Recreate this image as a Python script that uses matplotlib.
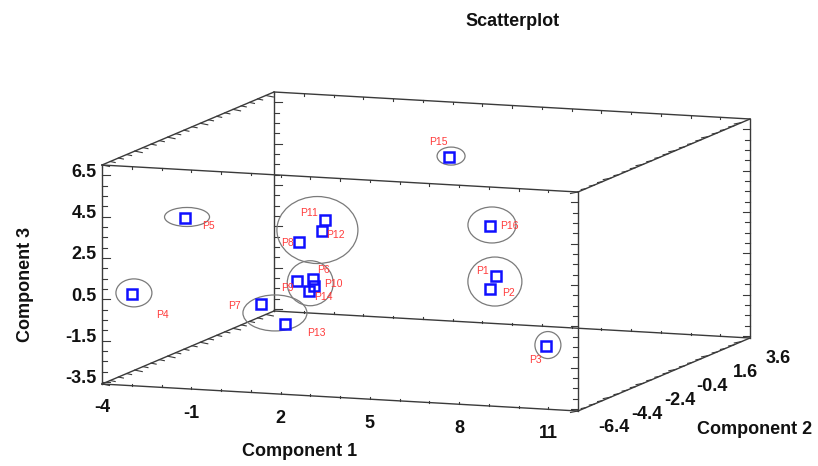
import numpy as np
import matplotlib
matplotlib.use('Agg')
import matplotlib.pyplot as plt
from matplotlib.patches import Ellipse

plt.rcParams['font.family'] = ['Liberation Sans', 'DejaVu Sans']

# data ---------------------------------------------------------------
names = ['P1', 'P2', 'P3', 'P4', 'P5', 'P6', 'P7', 'P8',
         'P9', 'P10', 'P11', 'P12', 'P13', 'P14', 'P15', 'P16']
comp1 = [5.44, 5.35, 9.60, -3.49, -1.98, -0.98, -1.63, -2.00,
         -1.41, -1.06, -1.40, -1.34, -0.55, -1.12, 2.49, 4.69]
comp2 = [0.5, 0.3, -4.0, -5.5, -5.0, 1.0, -1.0, 2.0,
         0.8, 1.2, 2.5, 2.2, -1.5, 1.0, 3.0, 1.5]
comp3 = [0.07, -0.49, -1.46, 0.50, 4.13, -0.76, -1.35, 0.61,
         -0.83, -1.17, 1.55, 1.13, -2.06, -1.35, 4.75, 2.10]

c1_ticks = [-4, -1, 2, 5, 8, 11]
c2_ticks = [-6.4, -4.4, -2.4, -0.4, 1.6, 3.6]
c3_ticks = [-3.5, -1.5, 0.5, 2.5, 4.5, 6.5]

# clusters circled on the chart
groups = [['P15'], ['P16'], ['P1', 'P2'], ['P3'], ['P5'], ['P4'],
          ['P7', 'P13'], ['P8', 'P11', 'P12'], ['P6', 'P9', 'P10', 'P14']]

# axis ranges of the box
c1_lim = (-4.0, 12.0)
c2_lim = (-6.4, 4.1)
c3_lim = (-3.6, 7.0)

# projection (screen pixels) --------------------------------------------
ORIGIN = (102.0, 384.0)
E1 = (476.0, 27.0)
E2 = (172.0, -73.0)
E3 = (0.0, -219.0)


def proj(c1, c2, c3):
    a = (np.asarray(c1, float) - c1_lim[0]) / (c1_lim[1] - c1_lim[0])
    u = (np.asarray(c2, float) - c2_lim[0]) / (c2_lim[1] - c2_lim[0])
    w = (np.asarray(c3, float) - c3_lim[0]) / (c3_lim[1] - c3_lim[0])
    x = ORIGIN[0] + a * E1[0] + u * E2[0] + w * E3[0]
    y = ORIGIN[1] + a * E1[1] + u * E2[1] + w * E3[1]
    return x, y


fig = plt.figure(figsize=(8.18, 4.66), dpi=100)
ax = fig.add_axes([0, 0, 1, 1])
ax.set_xlim(0, 818)
ax.set_ylim(466, 0)
ax.axis('off')

edge_col = '#3a3a3a'

# box edges
lo = [c1_lim[0], c2_lim[0], c3_lim[0]]
hi = [c1_lim[1], c2_lim[1], c3_lim[1]]
for i in range(3):
    others = [j for j in range(3) if j != i]
    for b0 in (0, 1):
        for b1 in (0, 1):
            p = [None, None, None]
            q = [None, None, None]
            p[i], q[i] = lo[i], hi[i]
            p[others[0]] = q[others[0]] = (lo, hi)[b0][others[0]]
            p[others[1]] = q[others[1]] = (lo, hi)[b1][others[1]]
            x0, y0 = proj(*p)
            x1, y1 = proj(*q)
            ax.plot([x0, x1], [y0, y1], color=edge_col, lw=1.0, zorder=1)


def edge_ticks(axis, vals, fixed, d, major=None):
    for v in vals:
        p = list(fixed)
        p[axis] = v
        x, y = proj(*p)
        k = 1.5 if (major is not None and np.any(np.isclose(v, major))) else 1.0
        ax.plot([x, x + d[0] * k], [y, y + d[1] * k], color=edge_col, lw=0.8, zorder=1)


c3_minor = np.arange(-3.5, 6.51, 0.5)
c2_minor = np.arange(-6.4, 3.61, 0.5)
c1_minor = np.arange(-4, 11.01, 1.0)

# vertical edges
edge_ticks(2, c3_minor, [c1_lim[0], c2_lim[0], 0], (5, 0), c3_ticks)
edge_ticks(2, c3_minor, [c1_lim[0], c2_lim[1], 0], (5, 0), c3_ticks)
edge_ticks(2, c3_minor, [c1_lim[1], c2_lim[0], 0], (-5, 0), c3_ticks)
edge_ticks(2, c3_minor, [c1_lim[1], c2_lim[1], 0], (-5, 0), c3_ticks)
# depth edges
edge_ticks(1, c2_minor, [c1_lim[0], 0, c3_lim[0]], (5, 1), c2_ticks)
edge_ticks(1, c2_minor, [c1_lim[0], 0, c3_lim[1]], (5, 1), c2_ticks)
edge_ticks(1, c2_minor, [c1_lim[1], 0, c3_lim[0]], (-5, 1), c2_ticks)
edge_ticks(1, c2_minor, [c1_lim[1], 0, c3_lim[1]], (-5, 1), c2_ticks)
# width edges
edge_ticks(0, c1_minor, [0, c2_lim[0], c3_lim[0]], (0, -2))
edge_ticks(0, c1_minor, [0, c2_lim[0], c3_lim[1]], (0, 2))
edge_ticks(0, c1_minor, [0, c2_lim[1], c3_lim[0]], (0, -2))
edge_ticks(0, c1_minor, [0, c2_lim[1], c3_lim[1]], (0, 2))

# tick labels
tick_kw = dict(fontsize=13, fontweight='bold', color='#111111')
for v in c1_ticks:
    x, y = proj(v, c2_lim[0], c3_lim[0])
    ax.text(x, y + 24, f'{v:g}', ha='center', va='center', **tick_kw)
for v in c3_ticks:
    x, y = proj(c1_lim[0], c2_lim[0], v)
    ax.text(x - 5, y - 3, f'{v:g}', ha='right', va='center', **tick_kw)
for v in c2_ticks:
    x, y = proj(c1_lim[1], v, c3_lim[0])
    ax.text(x + 36, y + 17, f'{v:g}', ha='center', va='center', **tick_kw)

lab_kw = dict(fontsize=13, fontweight='bold', color='#111111')
ax.text(300, 452, 'Component 1', ha='center', va='center', **lab_kw)
ax.text(755, 430, 'Component 2', ha='center', va='center', **lab_kw)
ax.text(26, 284, 'Component 3', ha='center', va='center', rotation=90, **lab_kw)
ax.text(513, 21, 'Scatterplot', ha='center', va='center', fontsize=13,
        fontweight='bold', color='#111111')

# points
px, py = proj(comp1, comp2, comp3)
ax.plot(px, py, 's', ms=6.5, mfc='none', mec='#1010ff', mew=1.8, ls='none', zorder=3)

label_off = {'P1': (-13, -5), 'P2': (19, 4), 'P3': (-10, 14), 'P4': (31, 21),
             'P5': (23, 8), 'P6': (10, -9), 'P7': (-27, 2), 'P8': (-12, 1),
             'P9': (-9, 7), 'P10': (19, -2), 'P11': (-16, -7), 'P12': (13, 4),
             'P13': (31, 9), 'P14': (14, 6), 'P15': (-11, -15), 'P16': (19, 0)}
for n, x, y in zip(names, px, py):
    dx, dy = label_off[n]
    ax.text(x + dx, y + dy, n, ha='center', va='center', fontsize=7.5,
            color='#ff3b3b', zorder=4)

# cluster ellipses
ell_size = [(28, 18), (48, 36), (54, 49), (26, 27), (45, 19), (36, 28),
            (64, 36), (81, 67), (46, 45)]
idx = {n: i for i, n in enumerate(names)}
for g, (w, h) in zip(groups, ell_size):
    gx = np.mean([px[idx[n]] for n in g])
    gy = np.mean([py[idx[n]] for n in g])
    ax.add_patch(Ellipse((gx + 2, gy - 1), w, h, fill=False, ec='#7a7a7a', lw=0.9, zorder=2))

fig.savefig('out.png', dpi=100)
